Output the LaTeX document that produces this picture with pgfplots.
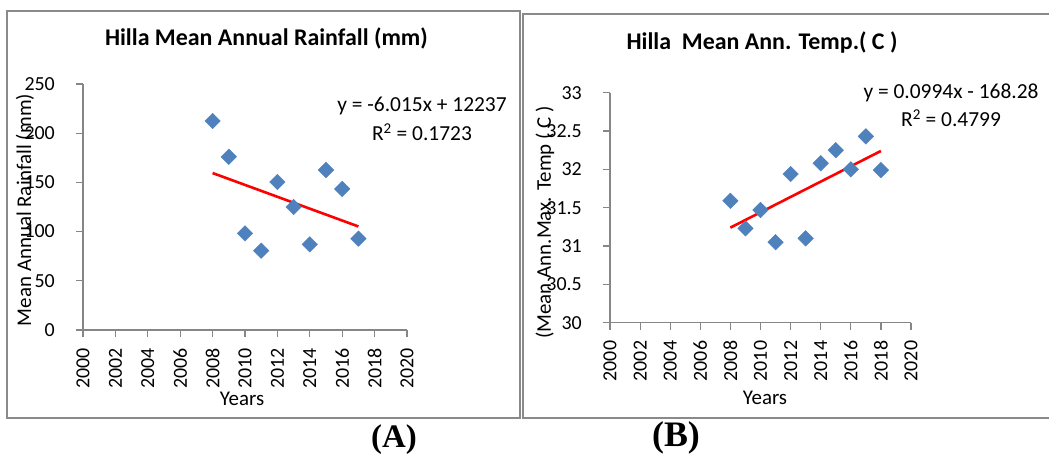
\documentclass[border=0pt]{standalone}
\usepackage{fontspec}
\setmainfont{Carlito}
\newfontfamily\timesfont{Liberation Serif}
\usepackage{pgfplots}
\pgfplotsset{compat=1.18}
\definecolor{exblue}{HTML}{4F81BD}
\definecolor{exgrid}{HTML}{868686}
\definecolor{frame}{HTML}{8A8A8A}
\newcommand{\fst}{\fontsize{20}{24}\selectfont}
\newcommand{\fsl}{\fontsize{21}{25}\selectfont}
\newcommand{\fse}{\fontsize{21.5}{25}\selectfont}
\newcommand{\fsh}{\fontsize{24}{28}\selectfont}
\pgfplotsset{
  excel/.style={
    scale only axis,
    axis lines=left,
    axis line style={draw=exgrid, line width=1.2bp, -},
    tick style={draw=exgrid, line width=1.2bp},
    tick align=outside,
    major tick length=7bp,
    xmin=2000, xmax=2020,
    xtick={2000,2002,...,2020},
    /pgf/number format/assume math mode=true,
    /pgf/number format/1000 sep={},
    tick label style={font=\fst},
    xticklabel style={yshift=-11bp, rotate=90, anchor=east, inner sep=0pt},
    yticklabel style={xshift=-21bp, anchor=east, inner sep=0pt},
    label style={font=\fsl},
    title style={font=\fsh\bfseries},
    clip=false,
  },
  mk/.style={only marks, mark=square*, mark size=5.5bp, mark options={rotate=45, fill=exblue, draw=exblue}},
  tl/.style={red, line width=2.6bp, no marks},
}
\begin{document}
\begin{tikzpicture}[x=1bp,y=1bp]
\path[use as bounding box] (0,0) rectangle (1049,454);
% frames
\draw[frame, line width=2bp] (7.3,443.3) rectangle (520,36);
\draw[frame, line width=2bp] (1055,440) -- (523.3,440) -- (523.3,36) -- (1055,36);

% Axis A
\begin{axis}[excel,
  at={(83bp,124bp)}, anchor=south west,
  width=324bp, height=246bp,
  ymin=0, ymax=250, ytick={0,50,...,250},
  xlabel={Years},
  xlabel style={at={(axis description cs:0.491,-0.278)}, anchor=center},
  ylabel={Mean Annual Rainfall (mm)},
  ylabel style={at={(axis description cs:-0.179,0.488)}, anchor=center},
  title={Hilla Mean Annual Rainfall (mm)},
  title style={at={(axis description cs:0.566,1.159)}, anchor=center},
]
\addplot[mk] coordinates {
(2008,212.4) (2009,176) (2010,98.2) (2011,80.6) (2012,150.4)
(2013,125) (2014,87) (2015,162.6) (2016,143.3) (2017,92.8)};
\addplot[tl] coordinates {(2008,159.5) (2017,105.2)};
\end{axis}

% Axis B
\begin{axis}[excel,
  at={(610bp,131.3bp)}, anchor=south west,
  width=301bp, height=230bp,
  ymin=30, ymax=33, ytick={30,30.5,...,33},
  yticklabel={\pgfmathprintnumber{\tick}},
  xlabel={Years},
  xlabel style={at={(axis description cs:0.515,-0.328)}, anchor=center},
  ylabel={(Mean Ann.Max. Temp ( C )},
  ylabel style={at={(axis description cs:-0.216,0.436)}, anchor=center},
  title={Hilla\ \ Mean Ann. Temp.( C )},
  title style={at={(axis description cs:0.505,1.194)}, anchor=center},
]
\addplot[mk] coordinates {
(2008,31.59) (2009,31.23) (2010,31.47) (2011,31.05) (2012,31.94) (2013,31.10)
(2014,32.08) (2015,32.25) (2016,32.00) (2017,32.43) (2018,31.99)};
\addplot[tl] coordinates {(2008,31.24) (2018,32.24)};
\end{axis}

% trendline labels
\node[font=\fse, anchor=center] at (422,348) {y = -6.015x + 12237};
\node[font=\fse, anchor=center] at (422,322) {R\textsuperscript{2} = 0.1723};
\node[font=\fse, anchor=center] at (951,361) {y = 0.0994x - 168.28};
\node[font=\fse, anchor=center] at (951,336) {R\textsuperscript{2} = 0.4799};

% panel labels
\node[font=\fontsize{33}{38}\selectfont\timesfont\bfseries, anchor=center] at (394,14) {(A)};
\node[font=\fontsize{36}{40}\selectfont\timesfont\bfseries, anchor=center] at (676,16) {(B)};
\end{tikzpicture}
\end{document}
